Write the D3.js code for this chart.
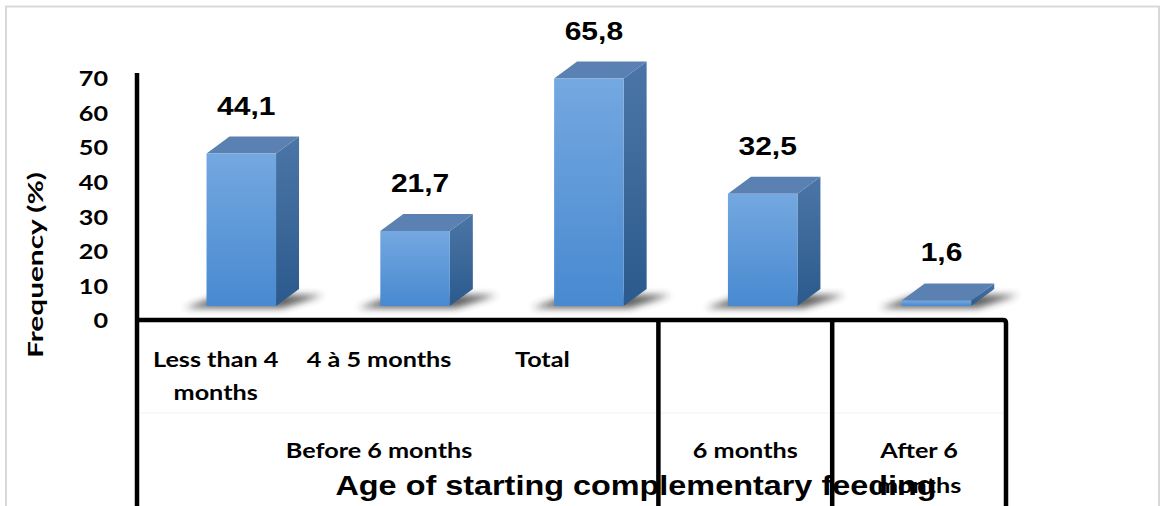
<!DOCTYPE html>
<html>
<head>
<meta charset="utf-8">
<script src="https://cdn.jsdelivr.net/npm/d3@7"></script>
<style>
  html, body { margin: 0; padding: 0; background: #fff; }
  svg { display: block; }
</style>
</head>
<body>
<svg id="chart" width="1165" height="506"></svg>
<script>
// Age at which complementary feeding started
const categories = ["Less than 4\nmonths", "4 à 5 months", "Total", "", ""];
const groups = ["Before 6 months", "Before 6 months", "Before 6 months", "6 months", "After 6\nmonths"];
const values = [44.1, 21.7, 65.8, 32.5, 1.6];
const valueLabels = ["44,1", "21,7", "65,8", "32,5", "1,6"];
const yTicks = [0, 10, 20, 30, 40, 50, 60, 70];
const yTitle = "Frequency (%)";
const xTitle = "Age of starting complementary feeding";

const svg = d3.select("#chart");
const W = 1165, H = 506;
const STRETCH = 1.2;   // text is drawn slightly widened

// text helper: positions a text node and widens it horizontally
function addText(parent, px, py, str, o) {
  const sx = o.sx != null ? o.sx : STRETCH, sy = o.sy != null ? o.sy : 1;
  const g = parent.append("g").attr("transform", `translate(${px},${py}) scale(${sx},${sy})` + (o.rotate ? ` rotate(${o.rotate})` : ""));
  const t = g.append("text")
    .attr("text-anchor", o.anchor || "middle")
    .attr("font-family", o.family)
    .attr("font-weight", "bold")
    .attr("font-size", o.size)
    .attr("fill", "#000")
    .text(str);
  if (o.dy) t.attr("dy", o.dy);
  return t;
}
const ARIAL = "Liberation Sans, Arial, sans-serif";
const CAL = "Lato, sans-serif";

// outer chart border
svg.append("rect")
  .attr("x", 6).attr("y", 6.5).attr("width", 1153).attr("height", 540)
  .attr("fill", "#fff").attr("stroke", "#d9d9d9").attr("stroke-width", 2);

const idx = d3.range(values.length);
const x = d3.scaleBand().domain(idx).range([137, 1006]);
const y = d3.scaleLinear().domain([0, 70]).range([320, 78]);
const step = x.step();
const barW = step * 0.40;
const depthX = 23, depthY = 17, floor = 14;

const defs = svg.append("defs");
const gFront = defs.append("linearGradient").attr("id", "gFront").attr("x1", 0).attr("y1", 0).attr("x2", 0).attr("y2", 1);
gFront.append("stop").attr("offset", "0%").attr("stop-color", "#74a8e0");
gFront.append("stop").attr("offset", "100%").attr("stop-color", "#4889d0");
const gSide = defs.append("linearGradient").attr("id", "gSide").attr("x1", 0).attr("y1", 0).attr("x2", 0).attr("y2", 1);
gSide.append("stop").attr("offset", "0%").attr("stop-color", "#4b75a7");
gSide.append("stop").attr("offset", "100%").attr("stop-color", "#2c5a8c");
const blur = defs.append("filter").attr("id", "soft").attr("x", "-50%").attr("y", "-200%").attr("width", "200%").attr("height", "500%");
blur.append("feGaussianBlur").attr("stdDeviation", 3.5);

// floor shadows
const shadows = svg.append("g");
idx.forEach(i => {
  const x0 = x(i) + step * 0.40, x1 = x0 + barW;
  const yb = y(0) - floor;
  shadows.append("polygon")
    .attr("points", [
      [x0 - 22, yb + 2], [x1 + 6, yb + 2],
      [x1 + depthX + 24, yb - depthY + 6], [x0 + depthX - 8, yb - depthY + 6]
    ].map(p => p.join(",")).join(" "))
    .attr("fill", "#2a2a2a").attr("opacity", 0.75).attr("filter", "url(#soft)");
});

// 3D bars with value labels
const bars = svg.append("g");
const valG = svg.append("g");
idx.forEach(i => {
  const x0 = x(i) + step * 0.40, x1 = x0 + barW;
  const yb = y(0) - floor, yt = y(values[i]) - floor;
  const g = bars.append("g");
  g.append("polygon")
    .attr("points", [[x1, yt], [x1 + depthX, yt - depthY], [x1 + depthX, yb - depthY], [x1, yb]].map(p => p.join(",")).join(" "))
    .attr("fill", "url(#gSide)");
  g.append("polygon")
    .attr("points", [[x0, yt], [x0 + depthX, yt - depthY], [x1 + depthX, yt - depthY], [x1, yt]].map(p => p.join(",")).join(" "))
    .attr("fill", "#5a81b2");
  g.append("rect")
    .attr("x", x0).attr("y", yt).attr("width", barW).attr("height", yb - yt)
    .attr("fill", "url(#gFront)");
  addText(valG, x0 + barW / 2 + 5, yt - depthY - 22, valueLabels[i], { family: ARIAL, size: 25 });
});

// y tick labels
const tickG = svg.append("g");
yTicks.forEach(d => addText(tickG, 108, y(d) + 1, d, { family: CAL, size: 21, anchor: "end", dy: "0.35em" }));

// y title (tall, narrow lettering)
addText(svg, 43, 265, yTitle, { family: CAL, size: 21, rotate: -90, sx: 1.0, sy: 1.42 });

// faint divider between label rows
svg.append("line").attr("x1", 139).attr("x2", 1004).attr("y1", 413).attr("y2", 413)
  .attr("stroke", "#f2f2f2").attr("stroke-width", 1);

// x title
addText(svg, 636, 495, xTitle, { family: ARIAL, size: 27 });

// group spans
const groupSpans = [];
idx.forEach(i => {
  const last = groupSpans[groupSpans.length - 1];
  if (last && last.name === groups[i]) last.items.push(i);
  else groupSpans.push({ name: groups[i], items: [i] });
});

// leaf labels in multi-category groups sit on a slightly tighter pitch
const leafCenter = {};
groupSpans.forEach(gs => {
  if (gs.items.length > 1) {
    const start = x(gs.items[0]) - 3;
    const xl = d3.scaleBand().domain(gs.items).range([start, start + gs.items.length * step * 0.94]);
    gs.items.forEach(i => leafCenter[i] = xl(i) + xl.bandwidth() / 2);
    gs.center = d3.mean(gs.items, i => leafCenter[i]);
  } else {
    const i = gs.items[0];
    leafCenter[i] = x(i) + step / 2;
    gs.center = x(i) + step / 2;
  }
});

const leafG = svg.append("g");
idx.forEach(i => {
  categories[i].split("\n").forEach((ln, k) => {
    if (ln) addText(leafG, leafCenter[i], 367 + k * 33, ln, { family: CAL, size: 21 });
  });
});
const grpG = svg.append("g");
groupSpans.forEach(gs => {
  gs.name.split("\n").forEach((ln, k) => {
    addText(grpG, gs.center, 458 + k * 35, ln, { family: CAL, size: 21 });
  });
});

// axis lines
const axis = svg.append("g").attr("stroke", "#000").attr("stroke-width", 4.5).attr("fill", "none");
axis.append("line").attr("x1", x.range()[0]).attr("x2", x.range()[0]).attr("y1", 73).attr("y2", H);
axis.append("path")
  .attr("d", `M${x.range()[0]},${y(0)} H${x.range()[1] - 3} Q${x.range()[1]},${y(0)} ${x.range()[1]},${y(0) + 3} V${H}`);
groupSpans.slice(1).forEach(gs => {
  const gx = x(gs.items[0]);
  axis.append("line").attr("x1", gx).attr("x2", gx).attr("y1", y(0)).attr("y2", H);
});
</script>
</body>
</html>
